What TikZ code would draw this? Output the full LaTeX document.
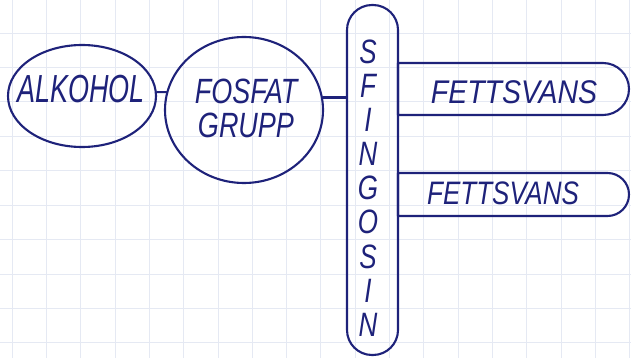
\documentclass[tikz,border=0pt]{standalone}
\usepackage{fontspec}
\setmainfont{Liberation Sans}
\usetikzlibrary{shapes.geometric,shapes.misc}
\definecolor{ink}{RGB}{30,34,122}
\definecolor{gridc}{RGB}{229,233,243}
\newcommand\hwscale[2]{\scalebox{1}[#1]{#2}}
\begin{document}
\begin{tikzpicture}[x=1pt,y=-1pt,
  gridline/.style={draw=gridc,line width=0.6pt},
  inkline/.style={draw=ink,line width=2.1pt,line join=round,line cap=round},
  hand/.style={text=ink,font=\fontsize{27}{34}\selectfont\itshape,inner sep=0pt},
  blob/.style={inkline,ellipse,inner sep=0pt},
  tab/.style={inkline,rounded rectangle,rounded rectangle left arc=none,inner sep=0pt}]
\useasboundingbox[fill=white] (0,0) rectangle (631,358);
% squared paper
\foreach \i in {0,...,18} \draw[gridline] (12+34.3*\i,0) -- ++(0,358);
\foreach \j in {0,...,9} \draw[gridline] (0,33+34.4*\j) -- ++(631,0);
% shapes
\node[blob,minimum width=148,minimum height=102] (alk) at (82,96) {};
\node[blob,minimum width=158,minimum height=146] (fos) at (244,110) {};
\node[inkline,rectangle,rounded corners=25,minimum width=51,minimum height=350,inner sep=0pt] (sfing) at (372.5,180) {};
\node[tab,minimum width=231,minimum height=52] (fett1) at (513.5,89) {};
\node[tab,minimum width=231,minimum height=43] (fett2) at (513.5,194.5) {};
% texts
\node[hand] (alktxt) at (81,89) {\hwscale{1.45}{ALKOHOL}};
\node[hand,align=center] (fostxt) at (246,108) {\hwscale{1.3}{FOSFAT}\\\hwscale{1.3}{GRUPP}};
\node[hand,align=center,font=\fontsize{26}{34.1}\selectfont\itshape] (sfingtxt) at (368,188)
  {\hwscale{1.3}{S}\\\hwscale{1.3}{F}\\\hwscale{1.3}{I}\\\hwscale{1.3}{N}\\\hwscale{1.3}{G}\\\hwscale{1.3}{O}\\\hwscale{1.3}{S}\\\hwscale{1.3}{I}\\\hwscale{1.3}{N}};
\node[hand,font=\fontsize{28.5}{34}\selectfont\itshape] (f1txt) at (514,92) {\hwscale{1.15}{FETTSVANS}};
\node[hand,font=\fontsize{26}{34}\selectfont\itshape] (f2txt) at (503,193) {\hwscale{1.25}{FETTSVANS}};
% connectors
\draw[inkline] (alk.3) -- (fos.167);
\draw[inkline,line width=3.6pt] (fos.9) -- (fos.9 -| sfing.west);
\end{tikzpicture}
\end{document}
